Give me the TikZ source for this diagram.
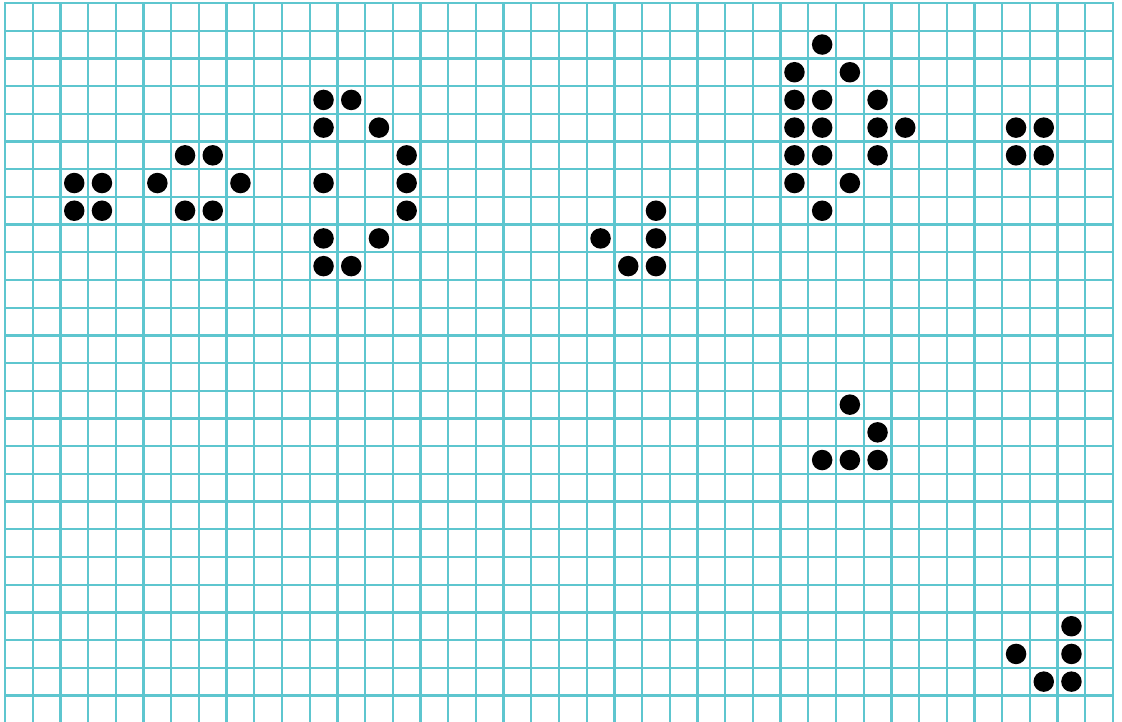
\documentclass[tikz,border=0pt]{standalone}
\usetikzlibrary{calc}
\definecolor{lfGrid}{HTML}{5EC6CF}
\definecolor{lfInk}{HTML}{000000}
\tikzset{
 life/.style={x=5mm,y=-5mm,line cap=rect},
 gridline/.style={draw=lfGrid,line width=1.2pt},
 alive/.style={circle,fill=lfInk,inner sep=0pt,minimum size=3.7mm}
}
\begin{document}
\begin{tikzpicture}[life]
 \clip (-.1805,-.108) rectangle (40.325,25.957);
 \fill[white] (-.1805,-.108) rectangle (40.325,25.957);
 \foreach \x in {0,...,40}{\draw[gridline] (\x,0)--(\x,26);}
 \foreach \y in {0,...,26}{\draw[gridline] (0,\y)--(40,\y);}
 % live cells, column/row counted from the top left
 \foreach \c/\r in {2/6,3/6,2/7,3/7,
   6/5,7/5,5/6,8/6,6/7,7/7,
   11/3,12/3,11/4,13/4,14/5,11/6,14/6,14/7,11/8,13/8,11/9,12/9,
   23/7,21/8,23/8,22/9,23/9,
   29/1,28/2,30/2,28/3,29/3,31/3,28/4,29/4,31/4,32/4,28/5,29/5,31/5,28/6,30/6,29/7,
   36/4,37/4,36/5,37/5,
   30/14,31/15,29/16,30/16,31/16,
   38/22,36/23,38/23,37/24,38/24}{
  \node[alive] (cell-\c-\r) at (\c+.5,\r+.5) {};
 }
\end{tikzpicture}
\end{document}
